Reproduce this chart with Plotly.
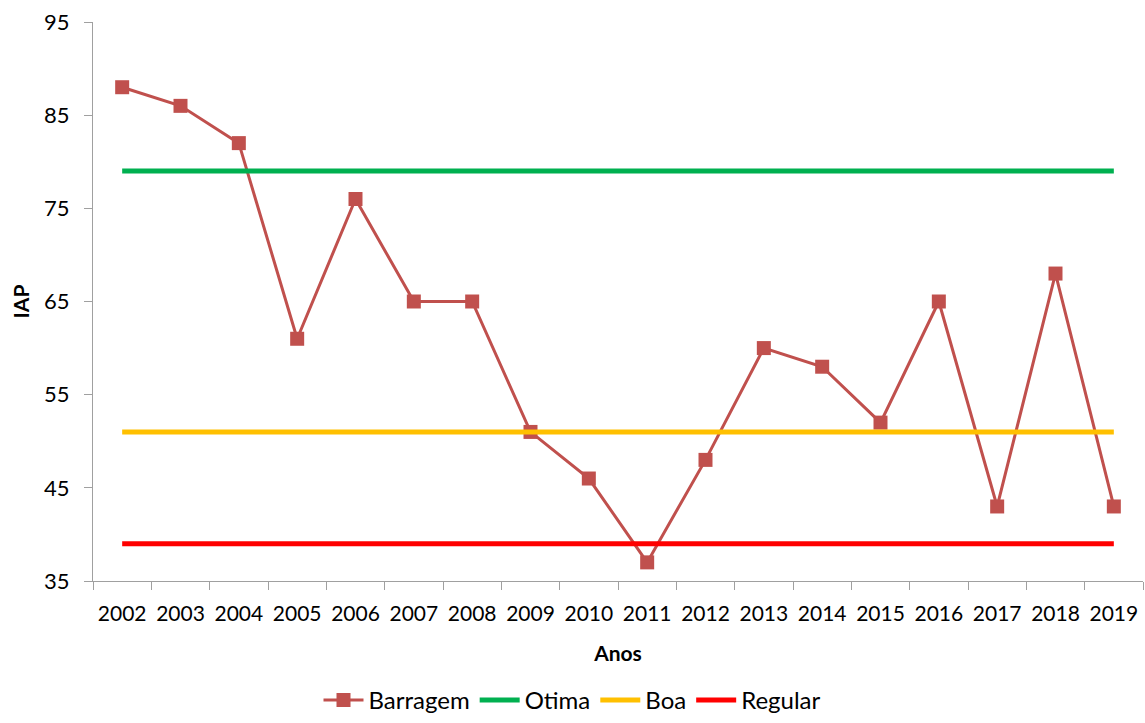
import plotly.graph_objects as go

anos = [str(y) for y in range(2002, 2020)]
barragem = [88, 86, 82, 61, 76, 65, 65, 51, 46, 37, 48, 60, 58, 52, 65, 43, 68, 43]
otima = [79] * len(anos)
boa = [51] * len(anos)
regular = [39] * len(anos)
y_ticks = [35, 45, 55, 65, 75, 85, 95]

FONT = "Lato"

fig = go.Figure()
fig.add_trace(go.Scatter(x=anos, y=barragem, name="Barragem", mode="lines+markers",
                         line=dict(color="#C0504D", width=3),
                         marker=dict(symbol="square", size=14, color="#C0504D")))
fig.add_trace(go.Scatter(x=anos, y=otima, name="Otima", mode="lines",
                         line=dict(color="#00B050", width=5)))
fig.add_trace(go.Scatter(x=anos, y=boa, name="Boa", mode="lines",
                         line=dict(color="#FFC000", width=5)))
fig.add_trace(go.Scatter(x=anos, y=regular, name="Regular", mode="lines",
                         line=dict(color="#FF0000", width=5)))

fig.update_layout(
    width=1145, height=723,
    margin=dict(l=93, r=2, t=22, b=142),
    paper_bgcolor="white", plot_bgcolor="white",
    font=dict(family=FONT, size=22, color="black"),
    showlegend=True,
    legend=dict(orientation="h", x=0.5, xanchor="center", xref="container",
                y=-0.014, yanchor="bottom", yref="container",
                font=dict(size=24), itemwidth=40, tracegroupgap=0),
)
fig.update_xaxes(type="category", tickson="boundaries", range=[-0.5, 17.5],
                 automargin=False,
                 showline=True, linecolor="#A0A0A0", linewidth=1,
                 ticks="outside", ticklen=8, tickcolor="#A0A0A0",
                 ticklabelstandoff=14,
                 showgrid=False, zeroline=False,
                 tickfont=dict(size=21),
                 title=dict(text="<b>Anos</b>", font=dict(size=21), standoff=22))
fig.update_yaxes(range=[35, 95], tickvals=y_ticks,
                 automargin=False,
                 showline=True, linecolor="#A0A0A0", linewidth=1,
                 ticks="outside", ticklen=8, tickcolor="#A0A0A0",
                 ticklabelstandoff=10,
                 showgrid=False, zeroline=False,
                 tickfont=dict(size=22),
                 title=dict(text="<b>IAP</b>", font=dict(size=21), standoff=8))

fig.write_html("out.html", config={"displayModeBar": False},
               post_script="document.body.style.margin='0';document.body.style.overflow='hidden';")
